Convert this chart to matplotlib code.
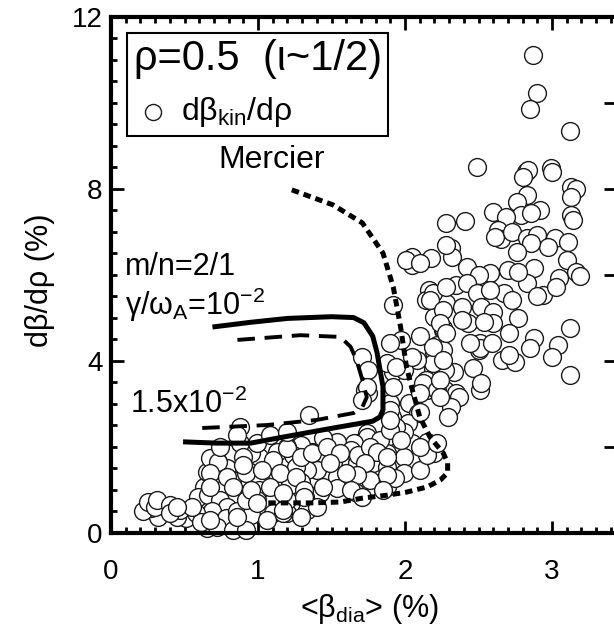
import matplotlib
matplotlib.use("Agg")
import matplotlib.pyplot as plt
from matplotlib.ticker import MultipleLocator, NullFormatter

plt.rcParams['font.family'] = ['Liberation Sans', 'DejaVu Sans']
plt.rcParams['mathtext.fontset'] = 'custom'
plt.rcParams['mathtext.rm'] = 'Liberation Sans'
plt.rcParams['mathtext.it'] = 'Liberation Sans:italic'
plt.rcParams['mathtext.default'] = 'regular'

# measured d(beta_kin)/d(rho) vs <beta_dia>, rho = 0.5
beta_dia = [
    2.87, 2.90, 2.85, 3.12, 2.49, 2.82, 2.84, 2.80, 2.99, 3.00, 3.13, 3.16, 3.13, 3.13, 3.14,
    2.83, 2.76, 2.92, 2.79, 2.60, 2.69, 2.86, 2.28, 2.41, 2.63, 2.65, 2.61, 2.73, 2.83, 2.90,
    3.02, 3.11, 2.97, 2.86, 2.76, 3.10, 2.88, 3.16, 3.19, 3.05, 2.83, 2.94, 3.03, 2.90, 2.31,
    2.32, 2.18, 2.05, 2.42, 2.58, 2.50, 2.70, 2.77, 2.35, 2.42, 2.49, 2.67, 2.58, 2.16, 2.14,
    2.28, 2.39, 2.52, 2.60, 2.73, 2.77, 2.71, 2.88, 3.12, 2.20, 2.26, 2.43, 2.60, 2.51, 2.22,
    3.04, 1.92, 1.97, 3.00, 3.12, 2.85, 2.66, 2.75, 2.50, 2.51, 2.46, 2.33, 2.19, 2.20, 2.26,
    2.27, 2.35, 2.15, 2.54, 2.51, 2.71, 2.39, 2.26, 2.44, 2.59, 2.52, 2.37, 2.31, 2.29, 2.27,
    2.19, 2.08, 2.14, 2.11, 2.03, 2.09, 2.02, 2.15, 2.20, 2.05, 1.97, 1.90, 1.91, 1.92, 1.99,
    1.90, 1.73, 1.71, 1.88, 1.81, 1.88, 1.78, 1.88, 1.68, 1.74, 1.67, 2.05, 1.99, 1.88, 1.68,
    1.76, 1.99, 2.10, 1.93, 2.05, 2.01, 2.12, 2.22, 2.10, 1.99, 1.94, 1.90, 1.75, 1.75, 1.35,
    1.74, 1.83, 1.90, 1.65, 1.54, 1.44, 1.37, 1.29, 1.24, 1.20, 1.47, 1.51, 1.63, 1.68, 1.76,
    1.81, 1.88, 2.15, 1.73, 1.67, 1.54, 1.40, 1.33, 1.29, 1.23, 1.88, 1.85, 1.66, 1.54, 1.42,
    1.32, 1.33, 1.20, 1.40, 0.88, 0.76, 0.83, 0.79, 0.93, 1.00, 1.06, 1.13, 1.20, 1.12, 1.22,
    1.01, 0.90, 0.82, 0.68, 0.63, 0.59, 0.66, 0.74, 0.79, 0.69, 0.78, 0.86, 0.95, 0.99, 0.92,
    1.10, 1.17, 1.20, 0.51, 0.58, 0.45, 0.38, 0.32, 0.27, 0.22, 0.25, 0.30, 0.47, 0.65, 0.72,
    0.83, 0.92, 0.61, 0.55, 0.65, 0.67, 0.73, 1.01, 0.95, 0.88, 0.99, 1.26, 0.86, 1.08, 1.20,
    2.28, 2.10, 2.19, 2.28, 2.17, 2.26, 2.24, 2.28, 2.10, 2.19, 2.05, 2.26, 1.88, 1.94, 2.24,
    1.92, 2.10, 2.24, 1.74, 1.71, 1.90, 1.97, 2.10, 2.22, 0.74, 0.90, 1.10, 1.29, 1.37, 1.47,
    1.56, 0.67, 0.79, 0.92, 1.03, 1.15, 1.26, 1.49, 1.60, 0.83, 0.95, 1.08, 1.17, 1.31, 1.44,
    1.63, 1.71, 0.31, 0.40, 0.40, 0.45, 0.67, 0.86, 0.67, 0.90, 0.99, 1.17, 1.29, 1.31, 1.06,
]
dbeta_kin = [
    11.12, 10.23, 9.86, 9.35, 8.52, 8.40, 8.44, 8.28, 8.49, 8.40, 8.05, 8.00, 7.82, 7.40, 7.28,
    7.86, 7.70, 7.51, 7.40, 7.47, 7.36, 7.44, 7.21, 7.26, 7.05, 6.84, 6.89, 7.01, 6.86, 6.93,
    6.86, 6.77, 6.66, 6.74, 6.54, 6.35, 6.16, 6.08, 5.98, 5.93, 5.81, 5.53, 5.73, 5.50, 6.63,
    6.43, 6.40, 6.23, 6.19, 6.05, 6.00, 6.12, 6.08, 5.77, 5.81, 5.59, 5.59, 5.65, 5.65, 5.42,
    5.35, 5.26, 5.26, 5.15, 5.42, 5.00, 4.65, 4.53, 4.77, 5.03, 4.72, 4.88, 4.88, 4.42, 4.37,
    4.37, 5.30, 4.49, 4.10, 3.67, 4.30, 4.02, 3.98, 4.26, 3.33, 3.84, 3.75, 3.84, 4.22, 4.26,
    3.33, 3.26, 3.33, 4.91, 4.30, 4.14, 4.95, 4.77, 4.42, 4.42, 3.49, 3.17, 2.94, 2.70, 3.79,
    3.95, 4.02, 3.56, 3.33, 3.02, 2.79, 2.56, 2.12, 1.86, 1.70, 2.33, 3.02, 2.70, 3.75, 3.79,
    4.42, 3.33, 4.10, 2.24, 2.01, 1.86, 1.63, 1.54, 2.09, 2.33, 1.63, 2.09, 1.77, 1.08, 1.00,
    1.23, 1.40, 1.47, 1.28, 6.43, 6.35, 3.49, 3.33, 2.82, 2.36, 2.47, 2.86, 3.26, 3.79, 2.74,
    2.24, 2.16, 2.40, 2.09, 2.12, 2.21, 1.89, 2.05, 1.81, 2.01, 1.70, 1.66, 1.93, 1.81, 2.01,
    1.89, 1.77, 1.81, 1.63, 1.35, 1.31, 1.47, 1.47, 1.19, 1.08, 1.35, 1.00, 0.96, 1.05, 0.93,
    0.84, 0.53, 0.47, 0.61, 2.47, 1.93, 1.86, 1.51, 1.51, 1.54, 1.93, 1.89, 1.98, 1.43, 1.12,
    1.00, 1.08, 1.23, 1.31, 1.08, 0.84, 0.88, 0.77, 0.61, 0.50, 0.35, 0.50, 0.42, 0.77, 0.77,
    0.47, 0.47, 0.77, 0.35, 0.47, 0.38, 0.53, 0.38, 0.58, 0.50, 0.73, 0.61, 0.53, 0.12, 0.15,
    0.07, 0.07, 0.26, 0.61, 1.43, 1.74, 1.66, 1.77, 1.86, 2.09, 2.09, 1.54, 2.28, 2.28, 2.36,
    6.70, 6.27, 5.58, 5.73, 5.42, 5.19, 4.88, 4.65, 4.57, 4.33, 4.10, 4.02, 3.95, 3.87, 3.56,
    3.40, 3.26, 3.17, 3.40, 3.09, 2.63, 2.16, 2.01, 2.09, 2.01, 1.77, 1.70, 1.77, 1.86, 2.01,
    1.86, 1.40, 1.31, 1.40, 1.47, 1.40, 1.31, 1.63, 1.40, 1.08, 1.00, 1.08, 0.93, 1.00, 1.08,
    1.00, 0.84, 0.77, 0.65, 0.47, 0.61, 0.30, 0.38, 1.08, 1.58, 0.70, 0.53, 0.38, 0.84, 0.30,
]

# Mercier stability boundary
mercier_x = [1.23, 1.51, 1.71, 1.85, 1.92, 1.97, 2.01, 2.05, 2.10, 2.17, 2.26, 2.29,
             2.29, 2.24, 2.15, 2.01, 1.88, 1.71, 1.56, 1.37, 1.17, 1.06]
mercier_y = [7.98, 7.63, 7.21, 6.51, 5.72, 4.79, 3.86, 3.33, 2.70, 2.23, 1.86, 1.63,
             1.40, 1.23, 1.07, 0.95, 0.88, 0.81, 0.72, 0.70, 0.70, 0.70]

# m/n=2/1 growth-rate contours
g1_x = [0.69, 0.95, 1.20, 1.50, 1.65, 1.72, 1.78, 1.81, 1.85, 1.85, 1.83, 1.78, 1.51,
        1.17, 0.95, 0.72, 0.49]
g1_y = [4.79, 4.90, 4.99, 5.03, 5.01, 4.89, 4.58, 4.19, 3.40, 2.86, 2.70, 2.60, 2.44,
        2.23, 2.09, 2.09, 2.12]
g15_x = [0.86, 1.29, 1.56, 1.63, 1.67, 1.71, 1.74, 1.71, 1.65, 1.40, 1.06, 0.61]
g15_y = [4.49, 4.60, 4.56, 4.33, 4.02, 3.56, 3.16, 2.93, 2.79, 2.63, 2.51, 2.44]

fig = plt.figure(figsize=(6.14, 6.39), dpi=100)
ax = fig.add_axes([0.1808, 0.1659, 0.8212, 0.8075])

ax.scatter(beta_dia, dbeta_kin, s=165, facecolors='white', edgecolors='#1a1a1a',
           linewidths=1.0, clip_on=False, zorder=2, label='dβ$_{kin}$/dρ')

ax.plot(mercier_x, mercier_y, color='black', lw=3.6, ls=(0, (1.5, 1.0)),
        dash_capstyle='butt', zorder=3)
ax.plot(g1_x, g1_y, color='black', lw=3.6, ls='-', solid_capstyle='butt',
        solid_joinstyle='round', zorder=3)
ax.plot(g15_x, g15_y, color='black', lw=2.8, ls=(0, (4.5, 2.5)),
        dash_capstyle='butt', zorder=3)

ax.text(0.73, 8.67, 'Mercier', fontsize=23, va='center', ha='left')
ax.text(0.095, 6.0, 'm/n=2/1', fontsize=22, va='baseline', ha='left')
ax.text(0.095, 5.07, 'γ/ω$_A$=10$^{-2}$', fontsize=22, va='baseline', ha='left')
ax.text(0.13, 2.79, '1.5x10$^{-2}$', fontsize=22, va='baseline', ha='left')

ax.set_xlim(0, 3.43)
ax.set_ylim(0, 12)
ax.xaxis.set_major_locator(MultipleLocator(1))
ax.xaxis.set_minor_locator(MultipleLocator(0.1))
ax.yaxis.set_major_locator(MultipleLocator(4))
ax.yaxis.set_minor_locator(MultipleLocator(0.5))
ax.tick_params(which='both', direction='in', top=True, right=False, width=2.0)
ax.tick_params(which='major', length=9, labelsize=20)
ax.tick_params(which='minor', length=4.5)
ax.tick_params(axis='x', pad=19)
ax.tick_params(axis='y', pad=6)

sec = ax.secondary_yaxis('right')
sec.yaxis.set_major_locator(MultipleLocator(2))
sec.yaxis.set_major_formatter(NullFormatter())
sec.tick_params(direction='in', length=8, width=2.0)
sec.spines['right'].set_linewidth(3)

for sp in ax.spines.values():
    sp.set_linewidth(3)
    sp.set_zorder(4)

ax.set_xlabel('<β$_{dia}$> (%)', fontsize=22)
ax.set_ylabel('dβ/dρ (%)', fontsize=22)
ax.xaxis.set_label_coords(0.512, -0.115)
ax.yaxis.set_label_coords(-0.111, 0.49)

leg = ax.legend(loc='upper left', bbox_to_anchor=(0.032, 0.969), borderaxespad=0,
                title='ρ=0.5  (ι~1/2)', title_fontsize=30, fontsize=23,
                fancybox=False, edgecolor='black', framealpha=1, markerscale=0.9,
                handletextpad=0.3, borderpad=0.2, handlelength=1.2, alignment='left',
                scatterpoints=1)
leg.get_frame().set_linewidth(1.5)
leg.set_zorder(6)

fig.savefig('out.png', dpi=100)
